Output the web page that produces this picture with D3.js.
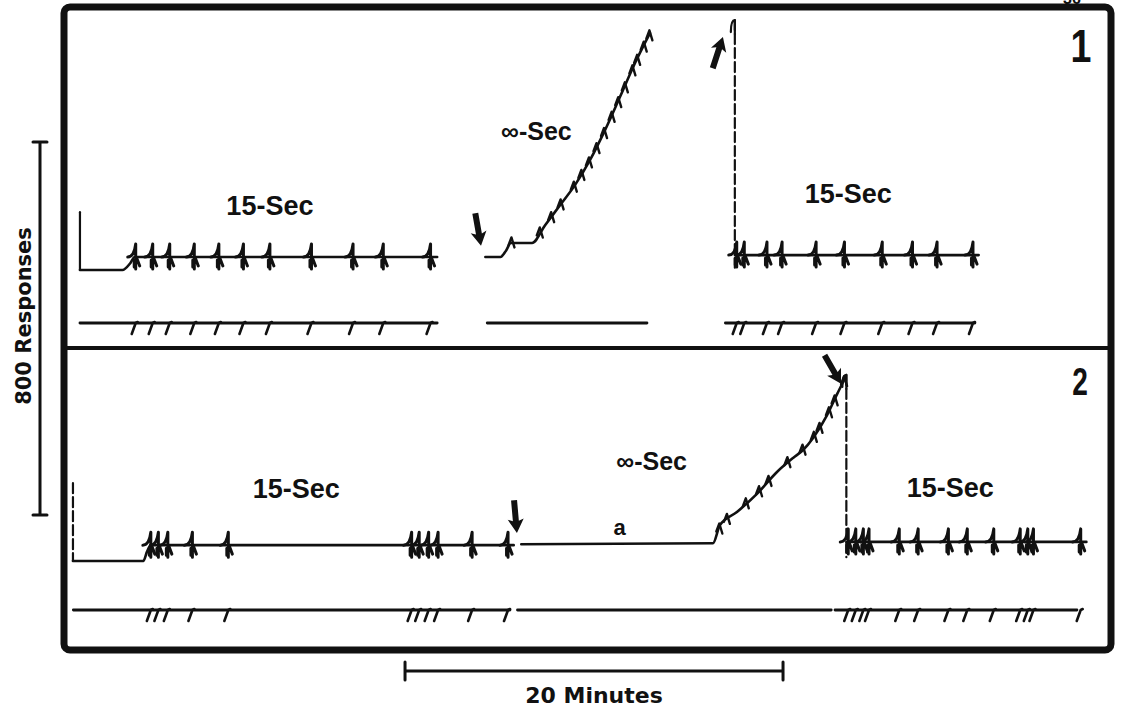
<!DOCTYPE html>
<html>
<head>
<meta charset="utf-8">
<script src="https://cdn.jsdelivr.net/npm/d3@7"></script>
<style>
  body { margin: 0; background: #fff; }
  text { font-family: "Liberation Sans", Arial, sans-serif; font-weight: bold; fill: #111; }
  .ink { fill: none; stroke: #111; stroke-linecap: round; stroke-linejoin: round; }
</style>
</head>
<body>
<svg id="chart" width="1121" height="708"></svg>
<script>
// ---- data: time in minutes, cumulative responses ----
// panel 1
var p1Rec15a = [[0.95, 0], [3.2, 0], [3.6, 14], [3.85, 28], [19.85, 28]];
var p1Rf15a = [3.9, 4.8, 5.7, 7.0, 8.3, 9.6, 11.0, 13.2, 15.4, 17.0, 19.5];
var p1RecInf = [[22.4, 28], [23.2, 28], [23.5, 42], [23.75, 58], [24.87, 58], [25.56, 96], [26.35, 139],
                [27.14, 182], [27.94, 236], [28.73, 300], [29.52, 371], [30.32, 444], [31.11, 508]];
var p1RfInf = [23.7, 25.2, 25.8, 26.3, 27.0, 27.4, 27.8, 28.2, 28.6, 29.0, 29.35, 29.7, 30.1, 30.35, 30.7, 31.0];
var p1Rec15c = [[35.6, 32], [48.5, 32]];
var p1Rf15c = [35.7, 36.1, 37.3, 38.1, 39.9, 41.4, 43.4, 45.0, 46.3, 48.2];
var p1EventRuns = [[0.95, 19.85], [22.5, 30.95], [35.1, 48.3]];
var p1Resets = [[0.95, 124, 0, 0], [35.6, 536, 5, 1]];   // t, top, bottom, dashed

// panel 2
var p2Rec15a = [[0.58, 0], [4.3, 0], [4.5, 20], [4.7, 34], [23.9, 34]];
var p2Rf15a = [4.7, 5.1, 5.6, 6.9, 8.8, 18.5, 18.9, 19.4, 19.9, 21.7, 23.6];
var p2RecInf = [[24.3, 36], [34.44, 38], [34.81, 77], [35.71, 105], [36.77, 144], [37.83, 191],
                [38.68, 221], [39.21, 238], [39.74, 264], [40.48, 313], [41.01, 358], [41.43, 392]];
var p2RfInf = [34.7, 35.1, 36.1, 36.8, 37.3, 38.3, 39.1, 39.7, 40.0, 40.5, 40.8, 41.3];
var p2Rec15c = [[41.5, 41], [54.2, 41]];
var p2Rf15c = [41.6, 42.0, 42.4, 42.7, 44.3, 45.3, 46.9, 47.9, 49.3, 50.7, 51.1, 51.4, 53.9];
var p2EventRuns = [[0.6, 23.7], [24.1, 40.7], [40.9, 53.7]];
var p2Resets = [[0.58, 167, 0, 1], [41.5, 399, 8, 1]];

// arrows: t, responses at tip, direction in degrees
var p1Arrows = [[22.17, 52, 80], [34.97, 500, -72]];
var p2Arrows = [[24.07, 60, 85], [41.22, 380, 60]];

// labels: text, t, responses (baseline)
var p1Labels = [["15-Sec", 11.0, 118], ["\u221e-Sec", 25.1, 279], ["15-Sec", 41.6, 144]];
var p2Labels = [["15-Sec", 12.4, 135], ["\u221e-Sec", 31.2, 195], ["a", 29.5, 56], ["15-Sec", 47.0, 137]];

var scaleMinutes = 20, scaleResponses = 800;

// ---- layout ----
var svg = d3.select("#chart");
var x = d3.scaleLinear().domain([0, 56]).range([62, 62 + 56 * 18.9]);
function yPanel(base) { return d3.scaleLinear().domain([0, 800]).range([base, base - 373]); }

var panels = [
  { y: yPanel(270), evY: 323, rec15: [p1Rec15a, p1Rec15c], rf15: [p1Rf15a, p1Rf15c],
    inf: p1RecInf, rfInf: p1RfInf, runs: p1EventRuns, resets: p1Resets, arrows: p1Arrows, labels: p1Labels },
  { y: yPanel(561), evY: 610, rec15: [p2Rec15a, p2Rec15c], rf15: [p2Rf15a, p2Rf15c],
    inf: p2RecInf, rfInf: p2RfInf, runs: p2EventRuns, resets: p2Resets, arrows: p2Arrows, labels: p2Labels }
];

function valueAt(pts, t) {
  var i = d3.bisector(function (d) { return d[0]; }).left(pts, t);
  if (i <= 0) return pts[0][1];
  if (i >= pts.length) return pts[pts.length - 1][1];
  var a = pts[i - 1], b = pts[i];
  return a[1] + (b[1] - a[1]) * (t - a[0]) / (b[0] - a[0]);
}

// frame
svg.append("rect").attr("x", 64).attr("y", 7).attr("width", 1047).attr("height", 643)
  .attr("rx", 6).attr("fill", "none").attr("stroke", "#111").attr("stroke-width", 7);
svg.append("line").attr("x1", 64).attr("x2", 1111).attr("y1", 348).attr("y2", 348)
  .attr("stroke", "#111").attr("stroke-width", 4);
// page number, cut by the top edge as in the scan
svg.append("text").attr("x", 1072).attr("y", 4).attr("text-anchor", "middle")
  .attr("font-size", 16).text("36");

panels.forEach(function (p) {
  var g = svg.append("g");
  var ys = p.y;

  var flat = d3.line().x(function (d) { return x(d[0]); }).y(function (d) { return ys(d[1]); })
    .curve(d3.curveMonotoneX);

  // 15-sec records with reinforcement pips
  p.rec15.forEach(function (rec, k) {
    g.append("path").attr("class", "ink").attr("stroke-width", 2.6).attr("d", flat(rec));
    g.selectAll(null).data(p.rf15[k]).enter().append("path")
      .attr("class", "ink").attr("stroke-width", 3)
      .attr("d", function (t) {
        var px = x(t), py = ys(valueAt(rec, t));
        return "M" + (px - 8) + "," + py + " C" + (px - 3) + "," + py + " " + (px - 1) + "," + (py - 5) +
          " " + px + "," + (py - 13) + " L" + px + "," + (py + 12) +
          " M" + (px + 1) + "," + (py + 1) + " L" + (px + 4) + "," + (py + 9) +
          " M" + (px - 1.5) + "," + (py + 3) + " L" + (px - 1.5) + "," + (py + 10);
      });
  });

  // extinction / infinite-delay record
  g.append("path").attr("class", "ink").attr("stroke-width", 2.6).attr("d", flat(p.inf));
  g.selectAll(null).data(p.rfInf).enter().append("path")
    .attr("class", "ink").attr("stroke-width", 2.4)
    .attr("d", function (t) {
      var px = x(t), py = ys(valueAt(p.inf, t));
      return "M" + (px - 1.5) + "," + (py + 1) + " L" + (px + 1.5) + "," + (py - 7) + " L" + (px + 4.5) + "," + (py + 3);
    });

  // pen resets
  g.selectAll(null).data(p.resets).enter().append("line")
    .attr("class", "ink").attr("stroke-width", 2.2)
    .attr("x1", function (d) { return x(d[0]); }).attr("x2", function (d) { return x(d[0]); })
    .attr("y1", function (d) { return ys(d[1]); }).attr("y2", function (d) { return ys(d[2]); })
    .attr("stroke-dasharray", function (d) { return d[3] ? "10,4" : null; });
  g.selectAll(null).data(p.resets.filter(function (d) { return d[3] && d[1] > 300; })).enter().append("path")
    .attr("class", "ink").attr("stroke-width", 2.2)
    .attr("d", function (d) {
      var px = x(d[0]), py = ys(d[1]);
      return "M" + (px - 4) + "," + (py + 12) + " Q" + (px - 4) + "," + py + " " + px + "," + py + " L" + px + "," + (py + 14);
    });

  // event recorder line
  g.selectAll(null).data(p.runs).enter().append("line")
    .attr("class", "ink").attr("stroke-width", 2.8)
    .attr("x1", function (d) { return x(d[0]); }).attr("x2", function (d) { return x(d[1]); })
    .attr("y1", p.evY).attr("y2", p.evY);
  g.selectAll(null).data(p.rf15[0].concat(p.rf15[1])).enter().append("path")
    .attr("class", "ink").attr("stroke-width", 2.6)
    .attr("d", function (t) {
      var px = x(t);
      return "M" + (px + 2) + "," + (p.evY - 1) + " L" + px + "," + p.evY + " L" + (px - 4) + "," + (p.evY + 11);
    });

  // arrows
  g.selectAll(null).data(p.arrows).enter().append("path")
    .attr("fill", "#111")
    .attr("transform", function (d) { return "translate(" + x(d[0]) + "," + ys(d[1]) + ") rotate(" + d[2] + ")"; })
    .attr("d", "M0,0 L-14,-8 L-12,-3 L-33,-3 L-33,3 L-12,3 L-14,8 Z");

  // labels
  g.selectAll(null).data(p.labels).enter().append("text")
    .attr("x", function (d) { return x(d[1]); }).attr("y", function (d) { return ys(d[2]); })
    .attr("text-anchor", "middle")
    .attr("font-size", function (d) { return d[0] === "a" ? 22 : (d[0].charAt(0) === "1" ? 27 : 25); })
    .text(function (d) { return d[0]; });
});

// panel numbers
svg.append("text").attr("transform", "translate(1081,62) scale(0.8,1)").attr("text-anchor", "middle")
  .attr("font-size", 47).text("1");
svg.append("text").attr("transform", "translate(1080,395) scale(0.72,1)").attr("text-anchor", "middle")
  .attr("font-size", 39).text("2");

// calibration bars
var barY = yPanel(515);
svg.append("path").attr("class", "ink").attr("stroke-width", 3)
  .attr("d", "M40," + barY(0) + "V" + barY(scaleResponses) +
    "M33," + barY(0) + "H47M33," + barY(scaleResponses) + "H47");
svg.append("text").attr("transform", "translate(31,316) rotate(-90)").attr("text-anchor", "middle")
  .style("font-family", "DejaVu Sans").attr("font-size", 21).text("800 Responses");

var t0 = 18.15;
svg.append("path").attr("class", "ink").attr("stroke-width", 3)
  .attr("d", "M" + x(t0) + ",671H" + x(t0 + scaleMinutes) +
    "M" + x(t0) + ",662V680M" + x(t0 + scaleMinutes) + ",662V680");
svg.append("text").attr("x", (x(t0) + x(t0 + scaleMinutes)) / 2).attr("y", 703).attr("text-anchor", "middle")
  .style("font-family", "DejaVu Sans").attr("font-size", 22).text("20 Minutes");
</script>
</body>
</html>
